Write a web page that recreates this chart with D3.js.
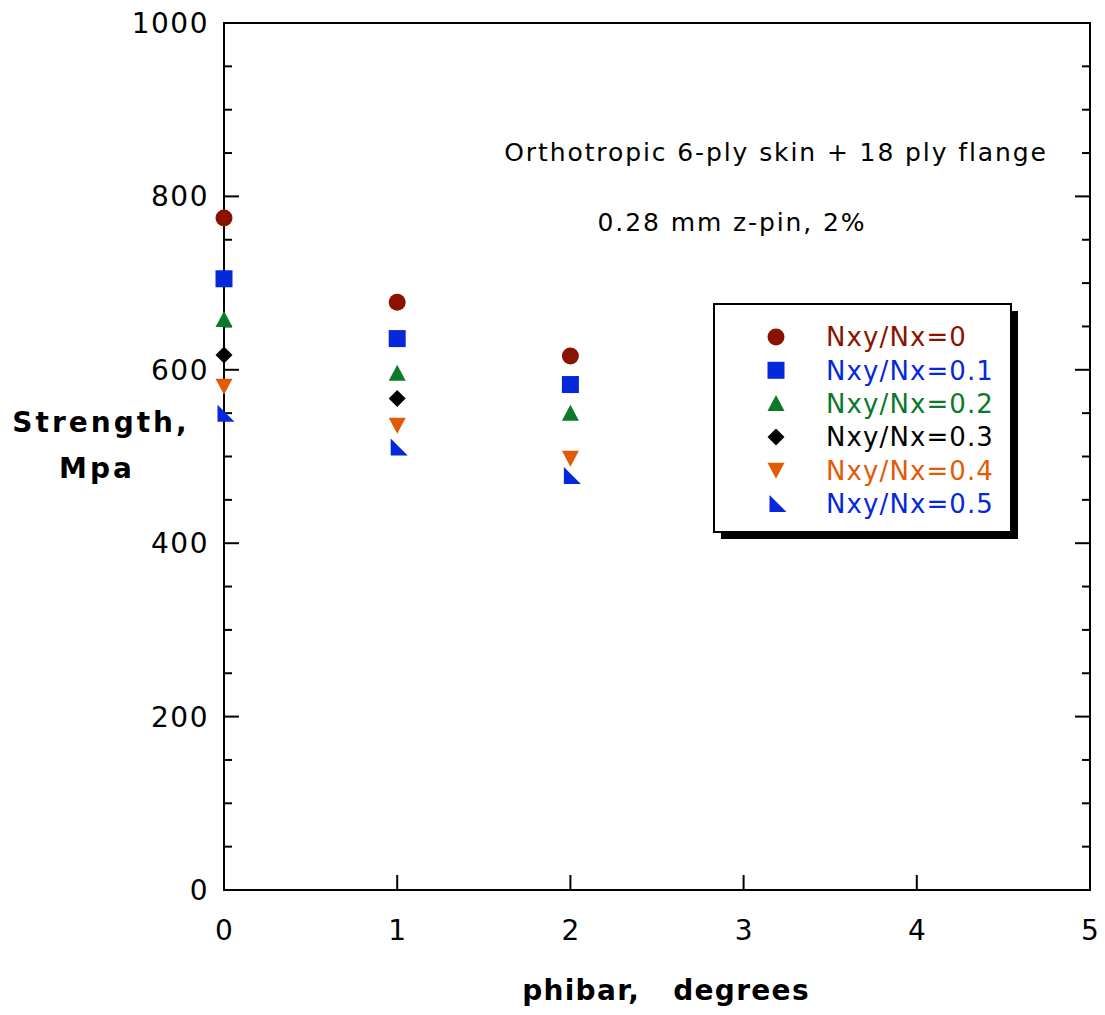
<!DOCTYPE html>
<html>
<head>
<meta charset="utf-8">
<script src="https://cdn.jsdelivr.net/npm/d3@7"></script>
<style>
  html, body { margin: 0; padding: 0; background: #fff; }
  svg { display: block; }
  text { font-family: "DejaVu Sans", Verdana, sans-serif; white-space: pre; }
</style>
</head>
<body>
<svg id="chart" width="1105" height="1015"></svg>
<script>
// Strength vs. phibar for several shear/axial load ratios
const phibar = [0, 1, 2];
const ratioLabels = ["Nxy/Nx=0", "Nxy/Nx=0.1", "Nxy/Nx=0.2", "Nxy/Nx=0.3", "Nxy/Nx=0.4", "Nxy/Nx=0.5"];
const ratio0  = [775, 678, 616];
const ratio01 = [705, 636, 583];
const ratio02 = [658, 596, 550];
const ratio03 = [617, 567, null];
const ratio04 = [581, 536, 498];
const ratio05 = [550, 511, 478];
const xTicks = [0, 1, 2, 3, 4, 5];
const yTicks = [0, 200, 400, 600, 800, 1000];
const annotations = ["Orthotropic 6-ply skin + 18 ply flange", "0.28 mm z-pin, 2%"];

const seriesValues = [ratio0, ratio01, ratio02, ratio03, ratio04, ratio05];
const colors = ["#8a1200", "#0528dc", "#0b7a28", "#000000", "#e25a05", "#0528dc"];
const shapes = ["circle", "square", "triangleUp", "diamond", "triangleDown", "rightTriangle"];

const svg = d3.select("#chart");
const plot = { left: 224, right: 1090, top: 23, bottom: 890 };

const x = d3.scaleLinear().domain([0, 5]).range([plot.left, plot.right]);
const y = d3.scaleLinear().domain([0, 1000]).range([plot.bottom, plot.top]);

// marker path generator, centred on (0,0)
const S = 17;
function markerPath(shape) {
  const h = S / 2;
  switch (shape) {
    case "circle": return d3.symbol(d3.symbolCircle, Math.PI * h * h)();
    case "square": return `M${-h},${-h}H${h}V${h}H${-h}Z`;
    case "triangleUp": return `M0,${-h}L${h},${h - 1}L${-h},${h - 1}Z`;
    case "triangleDown": return `M${-h},${-h + 1}L${h},${-h + 1}L0,${h}Z`;
    case "diamond": { const d = 8.5; return `M0,${-d}L${d},0L0,${d}L${-d},0Z`; }
    case "rightTriangle": return `M${-h + 2},${-h}L${h + 2},${h}L${-h + 2},${h}Z`;
  }
}

// frame
svg.append("rect")
  .attr("x", plot.left).attr("y", plot.top)
  .attr("width", plot.right - plot.left).attr("height", plot.bottom - plot.top)
  .attr("fill", "none").attr("stroke", "#000").attr("stroke-width", 2);

// y ticks: every 50, long at labelled values, on both sides pointing inward
const yAll = d3.range(0, 1001, 50);
const tickG = svg.append("g").attr("stroke", "#000").attr("stroke-width", 2);
yAll.forEach(v => {
  const len = v % 200 === 0 ? 15 : 8;
  tickG.append("line").attr("x1", plot.left).attr("x2", plot.left + len)
    .attr("y1", y(v)).attr("y2", y(v));
  tickG.append("line").attr("x1", plot.right).attr("x2", plot.right - len)
    .attr("y1", y(v)).attr("y2", y(v));
});
xTicks.forEach(v => {
  tickG.append("line").attr("x1", x(v)).attr("x2", x(v))
    .attr("y1", plot.bottom).attr("y2", plot.bottom - 15);
});

// tick labels
svg.append("g").selectAll("text").data(yTicks).join("text")
  .attr("x", 209).attr("y", d => y(d)).attr("dy", "0.36em")
  .attr("text-anchor", "end")
  .attr("font-size", 28).attr("letter-spacing", 1.5)
  .text(d => d);
svg.append("g").selectAll("text").data(xTicks).join("text")
  .attr("x", d => x(d)).attr("y", 940)
  .attr("text-anchor", "middle")
  .attr("font-size", 28)
  .text(d => d);

// axis titles
const yTitle = svg.append("text").attr("font-size", 28).attr("font-weight", "bold")
  .attr("letter-spacing", 3).attr("text-anchor", "middle");
yTitle.append("tspan").attr("x", 101).attr("y", 432).text("Strength,");
yTitle.append("tspan").attr("x", 97).attr("y", 478).text("Mpa");
svg.append("text").attr("x", 666).attr("y", 1000)
  .attr("font-size", 28).attr("font-weight", "bold").attr("letter-spacing", 1.3)
  .attr("text-anchor", "middle")
  .text("phibar,   degrees");

// annotations
svg.append("text").attr("x", 776).attr("y", 161)
  .attr("text-anchor", "middle").attr("font-size", 25).attr("letter-spacing", 1.9)
  .text(annotations[0]);
svg.append("text").attr("x", 732).attr("y", 231)
  .attr("text-anchor", "middle").attr("font-size", 25).attr("letter-spacing", 1.9)
  .text(annotations[1]);

// data markers
seriesValues.forEach((vals, i) => {
  const pts = phibar.map((p, j) => ({ p, v: vals[j] })).filter(d => d.v != null);
  svg.append("g").selectAll("path").data(pts).join("path")
    .attr("transform", d => `translate(${x(d.p)},${y(d.v)})`)
    .attr("d", markerPath(shapes[i]))
    .attr("fill", colors[i]);
});

// legend with drop shadow
const lg = { x: 714, y: 304, w: 297, h: 228 };
svg.append("rect").attr("x", lg.x + 7).attr("y", lg.y + 7)
  .attr("width", lg.w).attr("height", lg.h).attr("fill", "#000");
svg.append("rect").attr("x", lg.x).attr("y", lg.y)
  .attr("width", lg.w).attr("height", lg.h)
  .attr("fill", "#fff").attr("stroke", "#000").attr("stroke-width", 2);
ratioLabels.forEach((lab, i) => {
  const cy = 337 + i * 33.3;
  svg.append("path").attr("transform", `translate(776,${cy})`)
    .attr("d", markerPath(shapes[i])).attr("fill", colors[i]);
  svg.append("text").attr("x", 826).attr("y", cy).attr("dy", "0.36em")
    .attr("font-size", 26).attr("letter-spacing", 1.1)
    .attr("fill", colors[i]).text(lab);
});
</script>
</body>
</html>
